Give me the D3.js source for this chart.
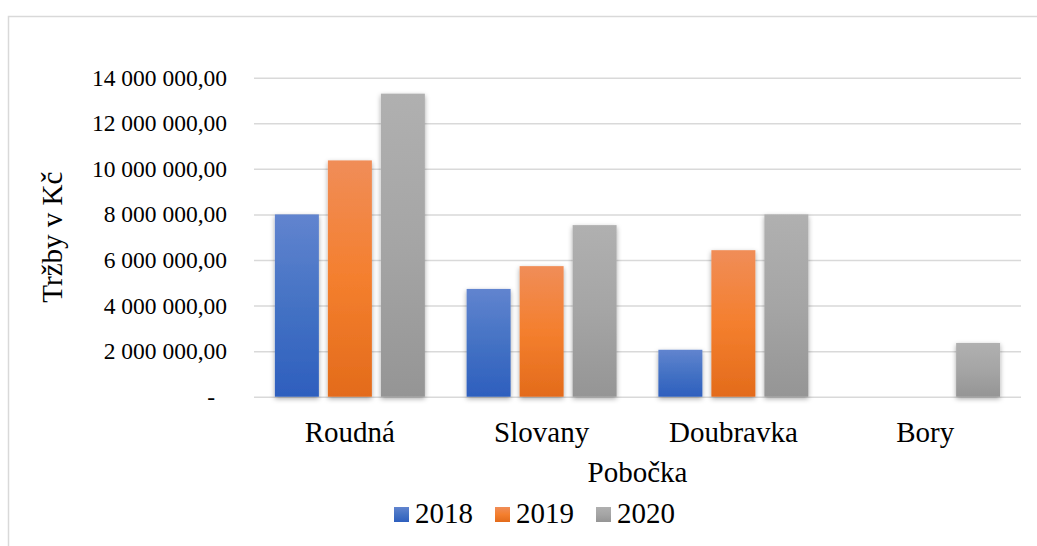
<!DOCTYPE html>
<html>
<head>
<meta charset="utf-8">
<script src="https://cdn.jsdelivr.net/npm/d3@7"></script>
<style>
  html, body { margin: 0; padding: 0; background: #fff; }
  svg { display: block; }
  svg text { font-family: "Liberation Serif", "Times New Roman", serif; fill: #000; }
</style>
</head>
<body>
<div id="chart"></div>
<script>
// data
const branches = ['Roudná', 'Slovany', 'Doubravka', 'Bory'];
const years = ['2018', '2019', '2020'];
const sales2018 = [8000000, 4730000, 2060000, 0];
const sales2019 = [10370000, 5730000, 6430000, 0];
const sales2020 = [13300000, 7530000, 8000000, 2360000];
const yTicks = [0, 2000000, 4000000, 6000000, 8000000, 10000000, 12000000, 14000000];

const series = [sales2018, sales2019, sales2020];
// gradient stops per year: top, middle, bottom
const colors = {
  '2018': ['#6184cf', '#4472c4', '#2e5fbe'],
  '2019': ['#f08d58', '#f47f2e', '#e36b1b'],
  '2020': ['#b0b0b0', '#a5a5a5', '#959595']
};

const width = 1037, height = 546;
const plot = { left: 254, right: 1021, top: 77.7, bottom: 396.7 };

const svg = d3.select('#chart').append('svg')
  .attr('width', width)
  .attr('height', height);

const defs = svg.append('defs');
years.forEach(yr => {
  const g = defs.append('linearGradient')
    .attr('id', 'grad' + yr)
    .attr('x1', 0).attr('y1', 0).attr('x2', 0).attr('y2', 1);
  g.append('stop').attr('offset', '0%').attr('stop-color', colors[yr][0]);
  g.append('stop').attr('offset', '50%').attr('stop-color', colors[yr][1]);
  g.append('stop').attr('offset', '100%').attr('stop-color', colors[yr][2]);
});
const shadow = defs.append('filter').attr('id', 'shadow')
  .attr('x', '-30%').attr('y', '-10%').attr('width', '160%').attr('height', '130%');
shadow.append('feDropShadow')
  .attr('dx', 0).attr('dy', 2)
  .attr('stdDeviation', 2.8)
  .attr('flood-color', '#000')
  .attr('flood-opacity', 0.35);

// chart area border (cropped on the right and bottom)
svg.append('rect')
  .attr('x', 8.5).attr('y', 16.5)
  .attr('width', 1100).attr('height', 600)
  .attr('fill', 'none')
  .attr('stroke', '#d9d9d9')
  .attr('stroke-width', 1.5);

const y = d3.scaleLinear().domain([0, 14000000]).range([plot.bottom, plot.top]);
const x0 = d3.scaleBand().domain(branches).range([plot.left, plot.right]).padding(0);
const x1 = d3.scaleBand().domain(years).range([0, x0.bandwidth()])
  .paddingInner(0.17).paddingOuter(0.394);

const locale = d3.formatLocale({ decimal: ',', thousands: ' ', grouping: [3], currency: ['', ''] });
const fmt = locale.format(',.2f');
const serif = 'Liberation Serif, Times New Roman, serif';

// gridlines
svg.append('g')
  .attr('transform', `translate(${plot.left},0)`)
  .call(d3.axisLeft(y).tickValues(yTicks).tickSize(-(plot.right - plot.left)).tickFormat(''))
  .call(g => g.select('.domain').remove())
  .call(g => g.selectAll('line').attr('stroke', '#d9d9d9').attr('stroke-width', 1.5));

// y axis labels
svg.append('g')
  .attr('transform', `translate(${plot.left},0)`)
  .call(d3.axisLeft(y).tickValues(yTicks).tickSize(0).tickPadding(27)
    .tickFormat(d => d === 0 ? '-' : fmt(d)))
  .attr('font-family', serif)
  .attr('font-size', 23.5)
  .call(g => g.select('.domain').remove())
  .call(g => g.selectAll('text').attr('fill', '#000'))
  .call(g => g.selectAll('.tick').filter(d => d === 0).select('text').attr('dx', -12));

// bars
const groups = svg.append('g').selectAll('g')
  .data(branches)
  .join('g')
  .attr('transform', d => `translate(${x0(d)},0)`);

groups.selectAll('rect')
  .data((d, i) => years.map((yr, j) => ({ yr, v: series[j][i] })).filter(e => e.v > 0))
  .join('rect')
  .attr('x', d => x1(d.yr))
  .attr('y', d => y(d.v))
  .attr('width', x1.bandwidth())
  .attr('height', d => y(0) - y(d.v))
  .attr('fill', d => `url(#grad${d.yr})`)
  .attr('filter', 'url(#shadow)');

// category axis
svg.append('g')
  .attr('transform', `translate(0,${plot.bottom})`)
  .call(d3.axisBottom(x0).tickSize(0))
  .attr('font-family', serif)
  .attr('font-size', 29)
  .call(g => g.select('.domain').remove())
  .call(g => g.selectAll('text')
    .attr('dy', null)
    .attr('y', 442 - plot.bottom)
    .attr('fill', '#000'));

// axis titles
svg.append('text')
  .attr('x', (plot.left + plot.right) / 2)
  .attr('y', 482)
  .attr('text-anchor', 'middle')
  .attr('font-size', 29)
  .text('Pobočka');

svg.append('text')
  .attr('transform', `translate(62,${(plot.top + plot.bottom) / 2}) rotate(-90)`)
  .attr('text-anchor', 'middle')
  .attr('font-size', 29)
  .text('Tržby v Kč');

// legend
const legend = svg.append('g').attr('transform', 'translate(394,507)');
const item = legend.selectAll('g')
  .data(years)
  .join('g')
  .attr('transform', (d, i) => `translate(${i * 101},0)`);
item.append('rect')
  .attr('width', 15).attr('height', 15)
  .attr('fill', d => `url(#grad${d})`);
item.append('text')
  .attr('x', 21)
  .attr('y', 16)
  .attr('font-size', 29)
  .text(d => d);
</script>
</body>
</html>
